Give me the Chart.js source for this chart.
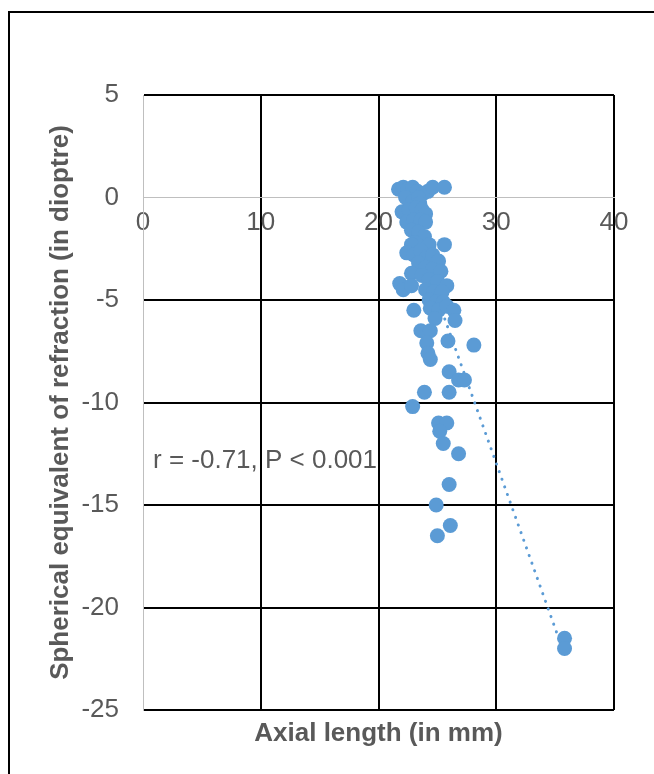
<!DOCTYPE html>
<html>
<head>
<meta charset="utf-8">
<script src="https://cdn.jsdelivr.net/npm/chart.js@4.4.1/dist/chart.umd.min.js"></script>
<style>
  body { margin: 0; background: #fff; }
  .frame { position: absolute; left: 8px; top: 11px; width: 700px; height: 800px; border: 2px solid #000; }
  .wrap { position: absolute; left: 0; top: 0; width: 654px; height: 774px; }
</style>
</head>
<body>
<div class="frame"></div>
<div class="wrap"><canvas id="chart" width="654" height="774"></canvas></div>
<script>
// axial length (mm) vs spherical equivalent (D)
const axialLength = [
  21.7, 22.1, 22.5, 22.9, 23.3, 23.8, 24.2, 24.6, 25.6,
  22.3, 22.9, 23.4, 23.5, 22.0, 22.6, 23.2, 23.7, 24.0,
  22.4, 23.0, 23.6, 24.0, 22.8, 23.4, 23.9, 23.1, 22.8, 24.3, 25.6,
  22.4, 23.0, 23.6, 24.1, 24.6, 25.1, 23.4, 24.0, 24.6, 25.3,
  22.8, 23.7, 24.3, 25.0, 25.8, 21.8, 22.1, 22.8, 24.0, 24.7, 25.4,
  24.3, 24.9, 25.5, 23.0, 24.4, 25.1, 25.8, 26.4, 24.8, 26.5,
  23.6, 24.4, 24.1, 25.9, 28.1, 24.2, 24.4, 26.0, 26.8, 27.3,
  23.9, 26.0, 22.9, 25.1, 25.8, 25.2, 25.5, 26.8, 26.0, 24.9,
  26.1, 25.0, 35.8, 35.8
];
const sphericalEq = [
  0.4, 0.5, 0.4, 0.5, 0.3, 0.2, 0.3, 0.5, 0.5,
  0.0, -0.2, 0.0, -0.3, -0.7, -0.6, -0.5, -0.6, -0.8,
  -1.2, -1.1, -1.1, -1.2, -1.6, -1.7, -1.9, -2.2, -2.3, -2.3, -2.3,
  -2.7, -2.8, -2.6, -2.9, -2.8, -3.1, -3.2, -3.4, -3.5, -3.6,
  -3.7, -3.8, -4.0, -4.1, -4.3, -4.2, -4.5, -4.3, -4.5, -4.6, -4.6,
  -5.0, -5.1, -5.1, -5.5, -5.4, -5.5, -5.3, -5.5, -5.9, -6.0,
  -6.5, -6.5, -7.1, -7.0, -7.2, -7.6, -7.9, -8.5, -8.9, -8.9,
  -9.5, -9.5, -10.2, -11.0, -11.0, -11.4, -12.0, -12.5, -14.0, -15.0,
  -16.0, -16.5, -21.5, -22.0
];
// ends of the dotted linear trendline
const trendX = [21.7, 35.8];
const trendY = [0.4, -22.3];

const xTicks = [0, 10, 20, 30, 40];
const yTicks = [5, 0, -5, -10, -15, -20, -25];
const statText = 'r = -0.71, P < 0.001';

const blue = '#5B9BD5';
const grey = '#595959';
const font = 'Liberation Sans, Arial, sans-serif';

// text box with the correlation
const statLabel = {
  id: 'statLabel',
  afterDatasetsDraw(chart) {
    const { ctx, scales } = chart;
    ctx.save();
    ctx.font = '26px ' + font;
    ctx.fillStyle = grey;
    ctx.textAlign = 'left';
    ctx.textBaseline = 'middle';
    ctx.fillText(statText, scales.x.getPixelForValue(0.85), scales.y.getPixelForValue(-12.85));
    ctx.restore();
  }
};

const gridColor = (ctx) => ctx.tick && ctx.tick.value === 0 ? '#BFBFBF' : '#000';
const gridWidth = (ctx) => ctx.tick && ctx.tick.value === 0 ? 1 : 2;

new Chart(document.getElementById('chart'), {
  type: 'scatter',
  data: {
    datasets: [
      {
        data: axialLength.map((x, i) => ({ x: x, y: sphericalEq[i] })),
        backgroundColor: blue,
        borderWidth: 0,
        pointRadius: 7.5,
        order: 0
      },
      {
        type: 'line',
        data: trendX.map((x, i) => ({ x: x, y: trendY[i] })),
        borderColor: blue,
        borderWidth: 3,
        borderDash: [0.1, 8],
        borderCapStyle: 'round',
        pointRadius: 0,
        fill: false,
        order: 1
      }
    ]
  },
  options: {
    responsive: false,
    animation: false,
    layout: { padding: { top: 95, right: 40, left: 0, bottom: 0 } },
    plugins: { legend: { display: false }, tooltip: { enabled: false } },
    scales: {
      x: {
        type: 'linear',
        position: { y: 0 },
        min: 0, max: 40,
        afterBuildTicks: (s) => { s.ticks = xTicks.map(v => ({ value: v })); },
        ticks: { color: grey, font: { family: font, size: 26 }, padding: 10 },
        grid: { color: gridColor, lineWidth: gridWidth, drawTicks: false },
        border: { color: '#BFBFBF', width: 1 }
      },
      x2: {
        type: 'linear',
        position: 'bottom',
        min: 0, max: 40,
        ticks: { display: false },
        grid: { display: false, drawTicks: false },
        border: { display: false },
        title: {
          display: true,
          text: 'Axial length (in mm)',
          color: grey,
          font: { family: font, size: 26, weight: 'bold' },
          padding: { top: 0, bottom: 25 }
        },
        afterFit: (s) => { s.height = 64; }
      },
      y: {
        type: 'linear',
        position: 'left',
        min: -25, max: 5,
        afterBuildTicks: (s) => { s.ticks = yTicks.map(v => ({ value: v })); },
        ticks: { color: grey, font: { family: font, size: 26 }, padding: 24 },
        grid: { color: gridColor, lineWidth: gridWidth, drawTicks: false },
        border: { color: '#BFBFBF', width: 1 },
        title: {
          display: true,
          text: 'Spherical equivalent of refraction (in dioptre)',
          color: grey,
          font: { family: font, size: 26, weight: 'bold' },
          padding: { top: 45, bottom: 0 }
        },
        afterFit: (s) => { s.width = 143; }
      }
    }
  },
  plugins: [statLabel]
});
</script>
</body>
</html>
